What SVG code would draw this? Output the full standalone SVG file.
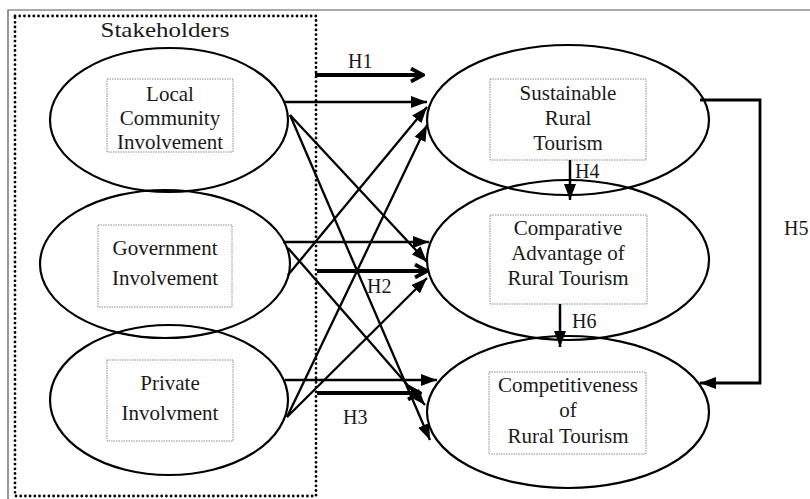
<svg xmlns="http://www.w3.org/2000/svg" width="810" height="499" viewBox="0 0 810 499">
<style>
text{font-family:"Liberation Serif","Times New Roman",serif;font-size:21px;fill:#1a1a1a;text-anchor:middle}
.lab{text-anchor:start;font-size:20px}
.ell{fill:none;stroke:#000;stroke-width:2.2}
.box{fill:none;stroke:#8a8a8a;stroke-width:1;stroke-dasharray:1.5 1}
.c{fill:none;stroke:#000;stroke-width:2.3;marker-end:url(#arr)}
.h{fill:none;stroke:#000;stroke-width:3.8;marker-end:url(#open)}
</style>
<defs>
<marker id="arr" markerUnits="userSpaceOnUse" markerWidth="17" markerHeight="13" refX="16" refY="6.5" orient="auto">
<path d="M0,0.5 L16,6.5 L0,12.5 z" fill="#000"/>
</marker>
<marker id="open" markerUnits="userSpaceOnUse" markerWidth="16" markerHeight="16" refX="14" refY="8" orient="auto">
<path d="M2,1.5 L14,8 L2,14.5" fill="none" stroke="#000" stroke-width="3.8"/>
</marker>
</defs>
<rect width="810" height="499" fill="#fff"/>
<path d="M8,499 V10 H810" fill="none" stroke="#555" stroke-width="1.2"/>
<g id="stakeholders">
<rect x="15" y="16" width="301" height="480" fill="none" stroke="#000" stroke-width="2.8" stroke-linecap="round" stroke-dasharray="0 4.7"/>
<text x="165" y="37" font-size="23" textLength="129" lengthAdjust="spacingAndGlyphs">Stakeholders</text>
</g>
<g id="local">
<ellipse class="ell" cx="169" cy="120" rx="119" ry="72"/>
<rect class="box" x="107" y="79" width="126" height="73"/>
<text x="170" y="101">Local</text>
<text x="170" y="125">Community</text>
<text x="170" y="149">Involvement</text>
</g>
<g id="government">
<ellipse class="ell" cx="165" cy="264" rx="125" ry="74"/>
<rect class="box" x="98" y="225" width="134" height="82"/>
<text x="165" y="255">Government</text>
<text x="165" y="285">Involvement</text>
</g>
<g id="private">
<ellipse class="ell" cx="169" cy="400" rx="119" ry="75"/>
<rect class="box" x="107" y="360" width="126" height="81"/>
<text x="170" y="390">Private</text>
<text x="170" y="420">Involvment</text>
</g>
<g id="sustainable">
<ellipse class="ell" cx="568" cy="120" rx="141" ry="75"/>
<rect class="box" x="490" y="79" width="156" height="81"/>
<text x="568" y="100">Sustainable</text>
<text x="568" y="125">Rural</text>
<text x="568" y="150">Tourism</text>
</g>
<g id="comparative">
<ellipse class="ell" cx="568" cy="260" rx="141" ry="80"/>
<rect class="box" x="490" y="215" width="157" height="89"/>
<text x="568" y="235">Comparative</text>
<text x="568" y="260">Advantage of</text>
<text x="568" y="285">Rural Tourism</text>
</g>
<g id="competitiveness">
<ellipse class="ell" cx="568" cy="412" rx="141" ry="76"/>
<rect class="box" x="489" y="372" width="157" height="82"/>
<text x="568" y="392">Competitiveness</text>
<text x="568" y="417">of</text>
<text x="568" y="443">Rural Tourism</text>
</g>
<g id="connectors">
<path class="c" d="M285,102 H427"/>
<path class="c" d="M290,115 L427,262"/>
<path class="c" d="M290,115 L430,440"/>
<path class="c" d="M283,242 H429"/>
<path class="c" d="M288,275 L427,107"/>
<path class="c" d="M288,248 L425,405"/>
<path class="c" d="M285,380 H437"/>
<path class="c" d="M287,417 L427,125"/>
<path class="c" d="M287,417 L427,278"/>
<path class="h" d="M315,75 H423"/>
<path class="h" d="M317,271 H427"/>
<path class="h" d="M317,393 H420"/>
<path d="M570,160 V200" fill="none" stroke="#000" stroke-width="2.5" marker-end="url(#arr)"/>
<path d="M560,304 V347" fill="none" stroke="#000" stroke-width="2.5" marker-end="url(#arr)"/>
<path d="M700,100 H760 V383 H700" fill="none" stroke="#000" stroke-width="2.8" marker-end="url(#arr)"/>
</g>
<g id="labels">
<text class="lab" x="348" y="68">H1</text>
<text class="lab" x="367" y="293">H2</text>
<text class="lab" x="343" y="424">H3</text>
<text class="lab" x="575" y="178">H4</text>
<text class="lab" x="784" y="235" font-size="21">H5</text>
<text class="lab" x="572" y="328">H6</text>
</g>
</svg>
